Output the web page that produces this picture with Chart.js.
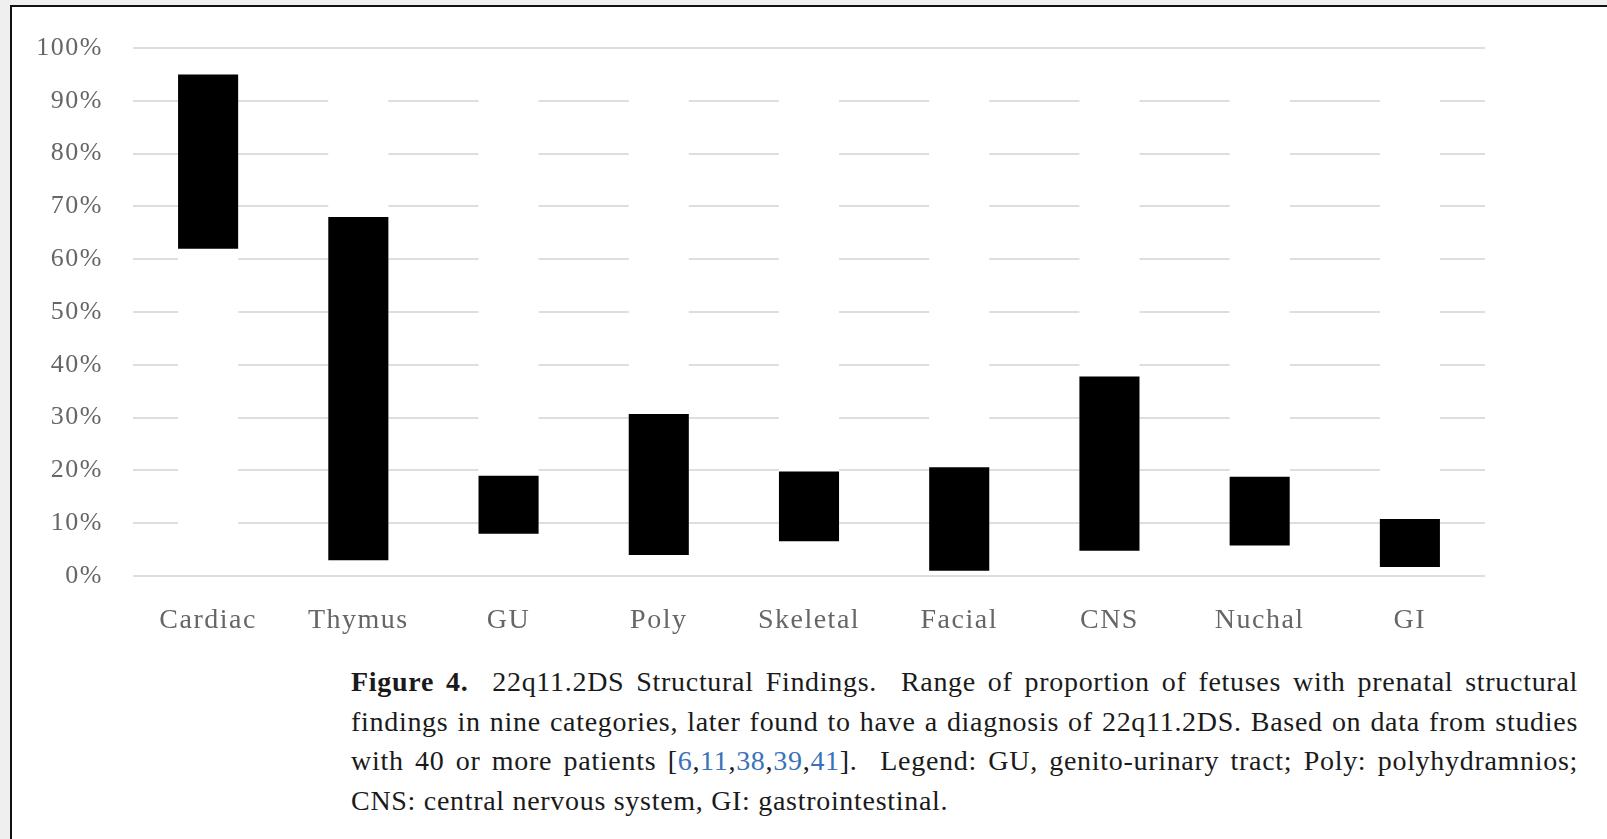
<!DOCTYPE html>
<html>
<head>
<meta charset="utf-8">
<script src="https://cdn.jsdelivr.net/npm/chart.js@4.4.1/dist/chart.umd.min.js"></script>
<style>
  html, body { margin: 0; padding: 0; background: #efefef; overflow: hidden; }
  body { width: 1607px; height: 839px; position: relative; }
  .frame {
    position: absolute; left: 10px; top: 5px; width: 1700px; height: 900px;
    background: #fff; border: 2px solid #111; box-sizing: border-box;
  }
  .chart-box { position: absolute; left: 20px; top: 1px; width: 1465px; height: 655px; }
  .caption {
    position: absolute; left: 351px; top: 662px; width: 1227px;
    font-family: "Liberation Serif", "DejaVu Serif", serif; font-size: 28px;
    letter-spacing: 0.7px; color: #1a1a1a; line-height: 39.5px;
  }
  .caption div { white-space: nowrap; text-align: justify; text-align-last: justify; }
  .caption div.last { text-align-last: left; }
  .caption .ref { color: #3a72b8; }
</style>
</head>
<body>
<div class="frame"></div>
<div class="chart-box"><canvas id="js-chart-findings"></canvas></div>
<div class="caption">
  <div><b>Figure 4.</b>&nbsp; 22q11.2DS Structural Findings.&nbsp; Range of proportion of fetuses with prenatal structural</div>
  <div>findings in nine categories, later found to have a diagnosis of 22q11.2DS. Based on data from studies</div>
  <div>with 40 or more patients [<span class="ref">6</span>,<span class="ref">11</span>,<span class="ref">38</span>,<span class="ref">39</span>,<span class="ref">41</span>].&nbsp; Legend: GU, genito-urinary tract; Poly: polyhydramnios;</div>
  <div class="last">CNS: central nervous system, GI: gastrointestinal.</div>
</div>
<script>
  // Categories and ranges (percent of fetuses)
  const categories = ['Cardiac', 'Thymus', 'GU', 'Poly', 'Skeletal', 'Facial', 'CNS', 'Nuchal', 'GI'];
  const rangeLow  = [62, 3, 8, 4, 6.6, 1, 4.8, 5.8, 1.7];
  const rangeHigh = [95, 68, 19, 30.7, 19.8, 20.6, 37.8, 18.8, 10.8];
  // white column behind each bar, it breaks the grid lines like in the original figure
  const maskLow  = [0.8, 0.8, 0.8, 0.8, 0.8, 0.8, 0.8, 0.8, 0.8];
  const maskHigh = [99.2, 99.2, 99.2, 99.2, 99.2, 99.2, 99.2, 99.2, 99.2];
  const yTicks = [0, 10, 20, 30, 40, 50, 60, 70, 80, 90, 100];

  const serif = '"Liberation Serif", "DejaVu Serif", serif';

  // wider letter spacing, closer to the Palatino of the original
  const spacingPlugin = {
    id: 'spacing',
    beforeLayout: function (chart) { chart.ctx.letterSpacing = '1.5px'; },
    beforeDraw: function (chart) { chart.ctx.letterSpacing = '1.5px'; }
  };

  let findingsData = {
    labels: categories,
    datasets: [
      {
        label: 'Range',
        data: categories.map((c, i) => [rangeLow[i], rangeHigh[i]]),
        backgroundColor: '#000',
        borderWidth: 0
      },
      {
        label: 'mask',
        data: categories.map((c, i) => [maskLow[i], maskHigh[i]]),
        backgroundColor: '#fff',
        borderWidth: 0
      }
    ]
  };

  let findingsOptions = {
    responsive: true,
    maintainAspectRatio: false,
    animation: false,
    barPercentage: 0.4,
    categoryPercentage: 1,
    layout: { padding: { top: 47, right: 0, bottom: 0, left: 0 } },
    scales: {
      x: {
        stacked: true,
        grid: { display: false, drawTicks: false },
        border: { display: false },
        ticks: {
          color: '#666',
          padding: 28,
          font: { family: serif, size: 28 }
        },
        afterFit: function (scale) { scale.height = 80; }
      },
      y: {
        stacked: false,
        min: 0,
        max: 100,
        afterBuildTicks: function (scale) {
          scale.ticks = yTicks.map(v => ({ value: v }));
        },
        grid: { color: '#dedede', lineWidth: 2, drawTicks: false },
        border: { display: false },
        ticks: {
          color: '#666',
          padding: 30,
          font: { family: serif, size: 26 },
          callback: function (v) { return v + '%'; }
        },
        afterFit: function (scale) { scale.width = 113; }
      }
    },
    plugins: {
      legend: { display: false },
      tooltip: { enabled: false }
    }
  };

  let findingsCon = document.getElementById('js-chart-findings');
  if (findingsCon !== null) {
    new Chart(findingsCon, { type: 'bar', data: findingsData, options: findingsOptions, plugins: [spacingPlugin] });
  }
</script>
</body>
</html>
